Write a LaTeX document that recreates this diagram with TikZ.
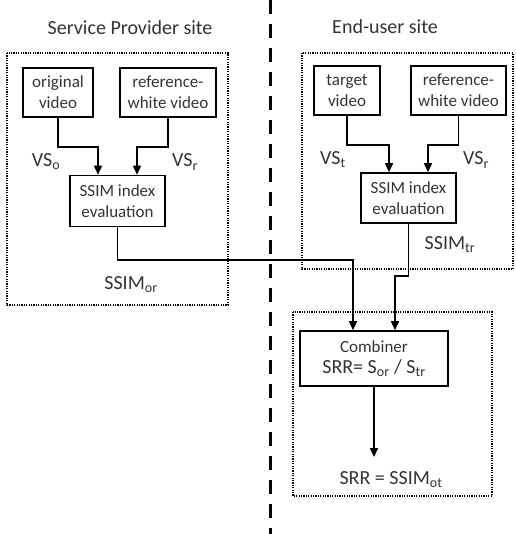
\documentclass[tikz,border=0pt]{standalone}
\usepackage{fontspec}
\setmainfont{Carlito}
\usetikzlibrary{arrows.meta}
\begin{document}
\begin{tikzpicture}[x=1pt,y=-1pt,
  box/.style={draw,line width=1.6pt,align=center,inner sep=0pt,text=black!80,font=\fontsize{17}{21}\selectfont},
  region/.style={draw,line width=1.3pt,dash pattern=on 1.2pt off 1.2pt},
  arr/.style={line width=1.6pt,-{Triangle[length=9pt,width=8pt]}},
  lbl/.style={text=black!80,font=\fontsize{20}{24}\selectfont}]
\useasboundingbox (0,0) rectangle (515,534);
% site borders
\draw[region] (7,53) rectangle (228,305);
\draw[region] (302,53) rectangle (513,269);
\draw[region] (293,312) rectangle (492,496);
\draw[line width=3pt,dash pattern=on 14pt off 10pt] (270,0) -- (270,534);
\node[lbl] (sp) at (130,28) {Service Provider site};
\node[lbl] (eu) at (385,27) {End-user site};
% service provider
\node[box,minimum width=70pt,minimum height=49pt] (orig) at (58,92.5) {original\\video};
\node[box,minimum width=96pt,minimum height=49pt] (refL) at (168,92.5) {reference-\\white video};
\node[box,minimum width=95pt,minimum height=51pt] (ssimL) at (117.5,201) {SSIM index\\evaluation};
\node[lbl] (vso) at (46,162) {VS\textsubscript{o}};
\node[lbl] (vsrL) at (185,162) {VS\textsubscript{r}};
\node[lbl] (sor) at (131,285) {SSIM\textsubscript{or}};
% end user
\node[box,minimum width=66pt,minimum height=49pt] (targ) at (347,90.5) {target\\video};
\node[box,minimum width=95pt,minimum height=49pt] (refR) at (458.5,90.5) {reference-\\white video};
\node[box,minimum width=95pt,minimum height=50pt] (ssimR) at (408.5,198) {SSIM index\\evaluation};
\node[lbl] (vst) at (333,160) {VS\textsubscript{t}};
\node[lbl] (vsrR) at (476,160) {VS\textsubscript{r}};
\node[lbl] (str) at (450,245) {SSIM\textsubscript{tr}};
% combiner
\node[box,minimum width=148pt,minimum height=55pt] (comb) at (374,358.5) {Combiner\\{\fontsize{20}{22}\selectfont SRR= S\textsubscript{or} / S\textsubscript{tr}}};
\node[lbl] (srr) at (391,480) {SRR = SSIM\textsubscript{ot}};
\coordinate (out) at (374,457);
% connectors
\draw[arr] (orig.south) -- (orig.south |- 0,147) -| ([xshift=-19.5pt]ssimL.north);
\draw[arr] (refL.south) -- (refL.south |- 0,147) -| ([xshift=19.5pt]ssimL.north);
\draw[arr] (targ.south) -- (targ.south |- 0,145) -| ([xshift=-19.5pt]ssimR.north);
\draw[arr] (refR.south) -- (refR.south |- 0,145) -| ([xshift=19.5pt]ssimR.north);
\draw[arr] (ssimL.south) -- (ssimL.south |- 0,260) -| ([xshift=-21pt]comb.north);
\draw[arr] (ssimR.south) -- (ssimR.south |- 0,276) -| ([xshift=21pt]comb.north);
\draw[arr] (comb.south) -- (out);
\end{tikzpicture}
\end{document}
